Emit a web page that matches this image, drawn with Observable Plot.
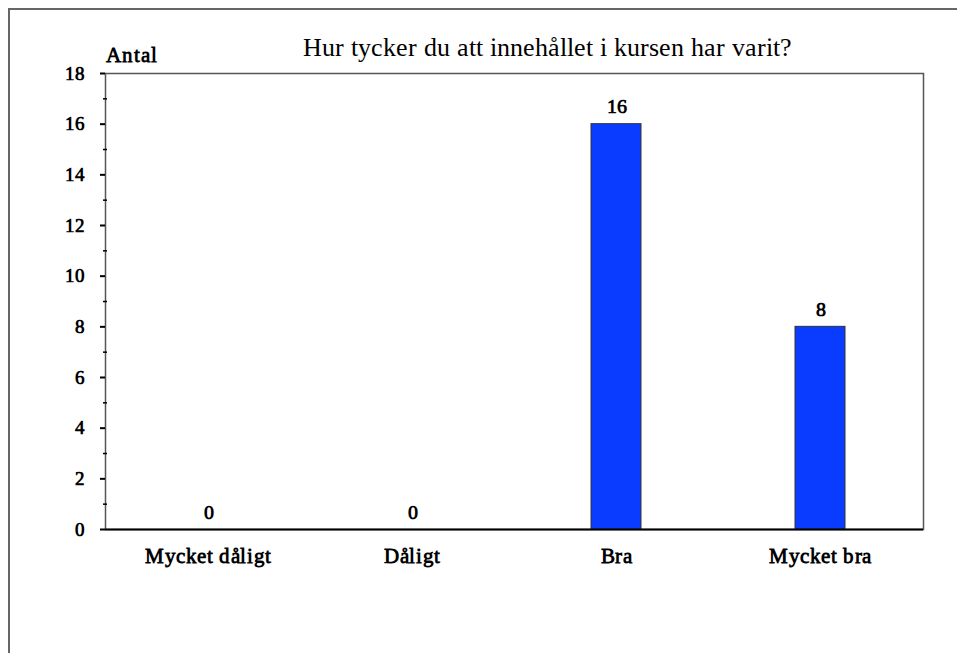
<!DOCTYPE html>
<html>
<head>
<meta charset="utf-8">
<script src="https://cdn.jsdelivr.net/npm/d3@7"></script>
<script src="https://cdn.jsdelivr.net/npm/@observablehq/plot@0.6"></script>
<style>
  @font-face { font-family: "SerifX"; src: local("Liberation Serif"), local("LiberationSerif"), local("Times New Roman"); font-weight: 400; font-style: normal; }
  html, body { margin: 0; padding: 0; background: #fff; }
  #wrap { position: relative; width: 957px; height: 653px; overflow: hidden; background: #fff; }
  #outer { position: absolute; left: 8px; top: 8px; width: 1200px; height: 1200px; border: 2px solid #666; box-sizing: border-box; }
  #chart { position: absolute; left: 0; top: 0; }
</style>
</head>
<body>
<div id="wrap">
  <div id="outer"></div>
  <div id="chart"></div>
</div>
<script>
const title = "Hur tycker du att innehållet i kursen har varit?";
const yLabel = "Antal";
const categories = ["Mycket dåligt", "Dåligt", "Bra", "Mycket bra"];
const values = [0, 0, 16, 8];
const majorTicks = [0, 2, 4, 6, 8, 10, 12, 14, 16, 18];
const minorTicks = [1, 3, 5, 7, 9, 11, 13, 15, 17];

const data = categories.map((c, i) => ({category: c, value: values[i]}));
const FONT = 'SerifX, "Liberation Serif", "Times New Roman", serif';

const chart = Plot.plot({
  width: 957,
  height: 653,
  marginLeft: 105,
  marginRight: 34,
  marginTop: 73,
  marginBottom: 124,
  style: {fontFamily: FONT, background: "transparent", color: "#000"},
  x: {type: "band", domain: categories, padding: 0},
  y: {domain: [0, 18]},
  marks: [
    Plot.frame({stroke: "#555", strokeWidth: 1.5}),
    Plot.barY(data, {x: "category", y: "value", fill: "#0a3cff", stroke: "#333", strokeWidth: 1, insetLeft: 77, insetRight: 77}),
    Plot.ruleY([0], {stroke: "#000", strokeWidth: 2}),
    Plot.axisY(majorTicks, {tickSize: 5, tickPadding: 16, fontSize: 19, fontWeight: "bold", fontFamily: FONT, label: null, line: true, stroke: "#000", strokeWidth: 2}),
    Plot.axisY(minorTicks, {tickSize: 4, dx: 2, text: null, label: null, strokeWidth: 1.5}),
    Plot.axisX({tickSize: 0, tickPadding: 19, fontSize: 21, fontWeight: "bold", fontFamily: FONT, label: null}),
    Plot.text(data, {x: "category", y: "value", text: d => String(d.value), dy: -11, lineAnchor: "bottom", fontSize: 20, fontWeight: "bold", fontFamily: FONT, fill: "#000"}),
    Plot.text([yLabel], {frameAnchor: "top-left", textAnchor: "start", lineAnchor: "bottom", dy: -12, fontSize: 21, fontWeight: "bold", fontFamily: FONT, fill: "#000"}),
    Plot.text([title], {frameAnchor: "top", lineAnchor: "bottom", dy: -18, dx: 33, fontSize: 26, fontFamily: FONT, fill: "#000"})
  ]
});
d3.select(chart).selectAll('g[aria-label="x-axis tick label"]').attr("letter-spacing", "0.6px");
d3.select(chart).selectAll("text").filter(function() { return this.textContent === yLabel; }).attr("letter-spacing", "1.2px");
document.getElementById("chart").appendChild(chart);
</script>
</body>
</html>
